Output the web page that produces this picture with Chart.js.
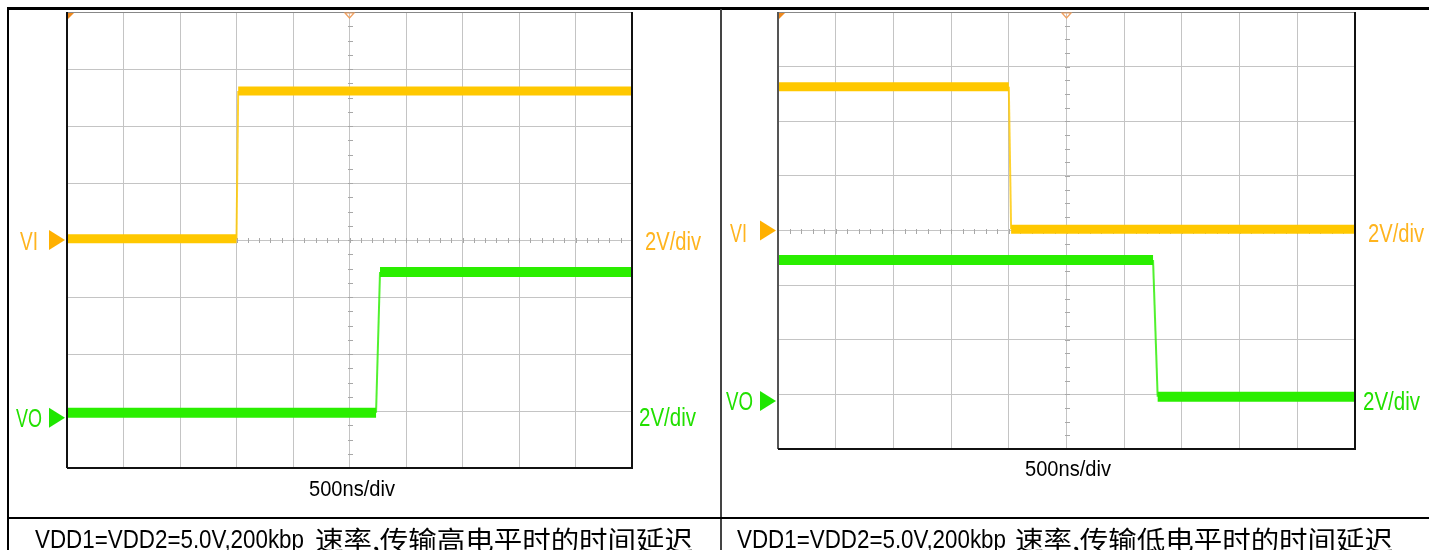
<!DOCTYPE html>
<html><head><meta charset="utf-8">
<script src="https://cdn.jsdelivr.net/npm/chart.js@4.4.1/dist/chart.umd.min.js"></script>
<style>
html,body{margin:0;padding:0;background:#fff;width:1429px;height:550px;overflow:hidden;position:relative}
canvas{position:absolute;left:0;top:0}
.t{position:absolute;white-space:nowrap;transform-origin:0 50%;font-family:"Liberation Sans Narrow","Liberation Sans",Arial,sans-serif}
.cjk{font-family:"Noto Sans CJK SC","Noto Sans CJK JP",sans-serif}
.rule{position:absolute;background:#000}
</style></head><body>
<div class="rule" style="left:7px;top:7px;width:1422px;height:3px"></div>
<div class="rule" style="left:7px;top:8px;width:2px;height:542px"></div>
<div class="rule" style="left:720px;top:9px;width:2px;height:541px;background:#444"></div>
<div class="rule" style="left:7px;top:517px;width:1422px;height:2px"></div>
<canvas id="cA" width="1429" height="550"></canvas>
<canvas id="cB" width="1429" height="550"></canvas>
<script>
// ---------- data (time in ns, level in volts) ----------
const channelNames = ['VI', 'VO'];
const voltsPerDivLabel = '2V/div';
const timePerDivLabel = '500ns/div';
const captions = [
  'VDD1=VDD2=5.0V,200kbp 速率,传输高电平时的时间延迟',
  'VDD1=VDD2=5.0V,200kbp 速率,传输低电平时的时间延迟'
];
// Panel A: input rises, output follows
const aViTime = [0, 1500, 1515, 5000];
const aViVolt = [0.04, 0.04, 5.23, 5.23];
const aVoTime = [0, 2735, 2770, 5000];
const aVoVolt = [0.18, 0.18, 5.12, 5.12];
// Panel B: input falls, output follows
const bViTime = [0, 2000, 2020, 5000];
const bViVolt = [5.26, 5.26, 0.05, 0.05];
const bVoTime = [0, 3250, 3290, 5000];
const bVoVolt = [5.16, 5.16, 0.15, 0.15];

// ---------- styling / scope settings ----------
const VI_COLOR = '#FFC800', VO_COLOR = '#2AEE00';
const VI_TXT = '#FFB41E', VO_TXT = '#22E000';
const GRID = '#c4c4c4';
const VO_OFFSET_V = 6.24; // VO channel ground shown 3.12 div below centre

function pts(t, v) { return t.map((x, i) => ({x, y: v[i]})); }

const scopePlugin = {
  id: 'scope',
  beforeDatasetsDraw(chart) {
    const {ctx, scales} = chart;
    const x = scales.x, y = scales.yVI;
    ctx.save();
    const cx = Math.round(x.getPixelForValue((x.min + x.max) / 2)) + 0.5;
    const cy = Math.round(y.getPixelForValue(0)) + 0.5;
    ctx.strokeStyle = '#a8a8a8'; ctx.lineWidth = 1;
    ctx.beginPath();
    for (let t = x.min + 100; t < x.max; t += 100) {
      const px = Math.round(x.getPixelForValue(t)) + 0.5;
      ctx.moveTo(px, cy - 2.5); ctx.lineTo(px, cy + 2.5);
    }
    for (let v = y.min + 0.5; v < y.max; v += 0.5) {
      const py = Math.round(y.getPixelForValue(v)) + 0.5;
      ctx.moveTo(cx - 2.5, py); ctx.lineTo(cx + 2.5, py);
    }
    ctx.stroke();
    ctx.restore();
  },
  afterDraw(chart) {
    const {ctx, chartArea: a, scales} = chart;
    const x = scales.x, y = scales.yVI, y2 = scales.yVO;
    ctx.save();
    // frame
    ctx.strokeStyle = '#888'; ctx.lineWidth = 1;
    ctx.beginPath(); ctx.moveTo(a.left, a.top + 0.5); ctx.lineTo(a.right, a.top + 0.5); ctx.stroke();
    ctx.strokeStyle = chart.options.plugins.scope.leftColor; ctx.lineWidth = 2;
    ctx.beginPath(); ctx.moveTo(a.left, a.top); ctx.lineTo(a.left, a.bottom); ctx.stroke();
    ctx.strokeStyle = '#111';
    ctx.beginPath(); ctx.moveTo(a.left, a.bottom); ctx.lineTo(a.right, a.bottom); ctx.lineTo(a.right, a.top); ctx.stroke();
    // trigger markers at top
    ctx.fillStyle = '#F08A1E';
    ctx.beginPath(); ctx.moveTo(a.left + 1, a.top + 1); ctx.lineTo(a.left + 7, a.top + 1); ctx.lineTo(a.left + 1, a.top + 7); ctx.closePath(); ctx.fill();
    ctx.strokeStyle = '#F0A060'; ctx.lineWidth = 1.2;
    const mx = x.getPixelForValue((x.min + x.max) / 2);
    ctx.beginPath(); ctx.moveTo(mx - 4.5, a.top + 1); ctx.lineTo(mx + 4.5, a.top + 1); ctx.lineTo(mx, a.top + 6); ctx.closePath(); ctx.stroke();
    // channel ground markers
    const tip = a.left - 2;
    [[y.getPixelForValue(0), '#FFB000'], [y2.getPixelForValue(0), '#1EE600']].forEach(([py, c]) => {
      ctx.fillStyle = c;
      ctx.beginPath(); ctx.moveTo(tip, py); ctx.lineTo(tip - 16, py - 10); ctx.lineTo(tip - 16, py + 10); ctx.closePath(); ctx.fill();
    });
    ctx.restore();
  }
};

function traceDs(data, color, axis, thick) {
  return {
    data, yAxisID: axis, borderColor: color, borderWidth: thick, pointRadius: 0,
    borderCapStyle: 'butt', tension: 0,
    segment: {
      borderWidth: c => c.p0.parsed.y === c.p1.parsed.y ? thick : 2,
      borderColor: c => c.p0.parsed.y === c.p1.parsed.y ? color : color + 'D0'
    }
  };
}

function makePanel(id, area, vi, vo, leftColor) {
  return new Chart(document.getElementById(id), {
    type: 'line',
    data: { datasets: [traceDs(vo, VO_COLOR, 'yVO', 10), traceDs(vi, VI_COLOR, 'yVI', 9)] },
    options: {
      responsive: false, animation: false, devicePixelRatio: 1,
      layout: { autoPadding: false, padding: { left: area[0], top: area[1], right: 1429 - area[2], bottom: 550 - area[3] } },
      plugins: { legend: { display: false }, tooltip: { enabled: false }, scope: { leftColor } },
      scales: {
        x: { type: 'linear', min: 0, max: 5000, ticks: { stepSize: 500, display: false },
             grid: { color: GRID, lineWidth: 1, drawTicks: false }, border: { display: false } },
        yVI: { type: 'linear', position: 'left', min: -8, max: 8, ticks: { stepSize: 2, display: false },
             grid: { color: GRID, lineWidth: 1, drawTicks: false }, border: { display: false } },
        yVO: { type: 'linear', position: 'right', min: -8 + VO_OFFSET_V, max: 8 + VO_OFFSET_V, display: false }
      }
    },
    plugins: [scopePlugin]
  });
}

makePanel('cA', [67, 12, 632, 468], pts(aViTime, aViVolt), pts(aVoTime, aVoVolt), '#111');
makePanel('cB', [778, 12, 1355, 449], pts(bViTime, bViVolt), pts(bVoTime, bVoVolt), '#555');

// ---------- text ----------
function addText(text, x, cy, w, fs, color, cls) {
  const d = document.createElement('div');
  d.className = 't' + (cls ? ' ' + cls : '');
  d.textContent = text;
  d.style.fontSize = fs + 'px';
  d.style.lineHeight = fs + 'px';
  d.style.color = color || '#000';
  d.style.left = x + 'px';
  d.style.top = (cy - fs / 2) + 'px';
  document.body.appendChild(d);
  const aw = d.getBoundingClientRect().width;
  if (aw > 0) d.style.transform = 'scaleX(' + (w / aw) + ')';
  return d;
}
// panel A labels
addText(channelNames[0], 20, 241, 18, 26, VI_TXT);
addText(channelNames[1], 16, 418, 26, 26, VO_TXT);
addText(voltsPerDivLabel, 645, 241, 56, 25, VI_TXT);
addText(voltsPerDivLabel, 639, 417, 57, 25, VO_TXT);
addText(timePerDivLabel, 309, 489, 86, 22, '#000');
// panel B labels
addText(channelNames[0], 730, 233, 17, 26, VI_TXT);
addText(channelNames[1], 726, 401, 27, 26, VO_TXT);
addText(voltsPerDivLabel, 1368, 233, 56, 25, VI_TXT);
addText(voltsPerDivLabel, 1363, 401, 57, 25, VO_TXT);
addText(timePerDivLabel, 1025, 469, 86, 22, '#000');
// captions
[[35, 315], [737, 1015]].forEach(([x1, x2], i) => {
  const sp = captions[i].indexOf(' ');
  addText(captions[i].slice(0, sp), x1, 539, 269, 26, '#000');
  addText(captions[i].slice(sp + 1), x2, 539, 378, 26, '#000', 'cjk');
});
</script>
</body></html>
